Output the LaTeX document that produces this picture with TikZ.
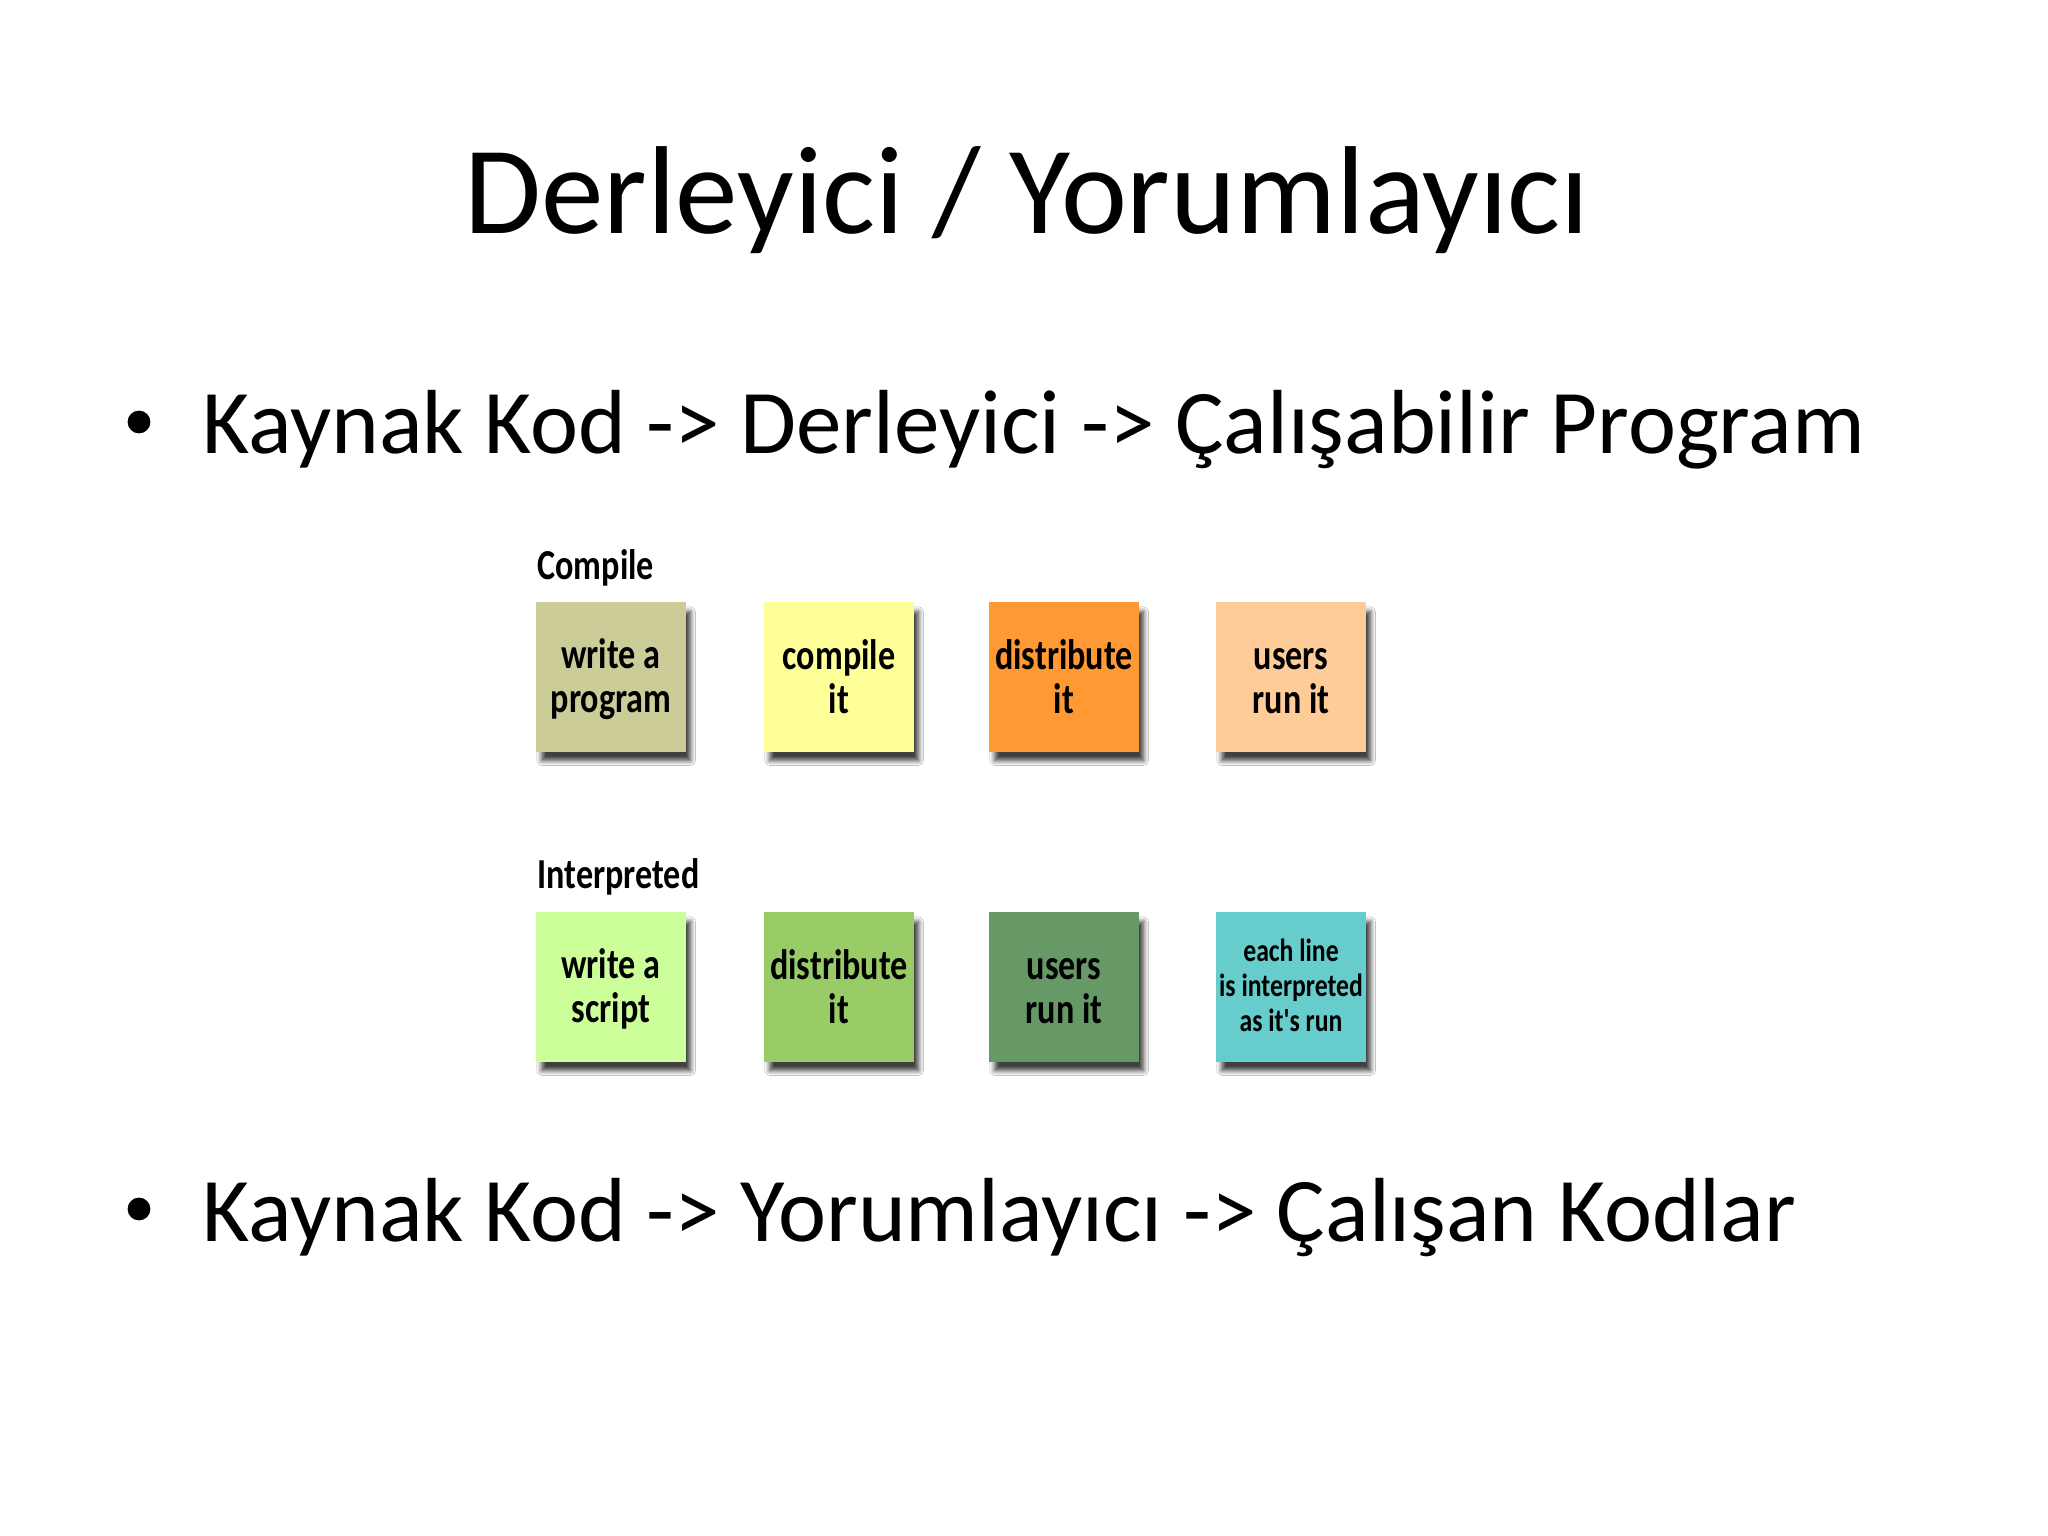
\documentclass[tikz,border=0pt]{standalone}
\usepackage{fontspec}
\setmainfont{Carlito}
\newfontfamily\boxfont{Carlito}[FakeStretch=0.8]
\usetikzlibrary{shadows.blur}
\definecolor{cA}{RGB}{204,204,153}
\definecolor{cB}{RGB}{255,255,153}
\definecolor{cC}{RGB}{255,153,51}
\definecolor{cD}{RGB}{255,204,153}
\definecolor{cE}{RGB}{204,255,153}
\definecolor{cF}{RGB}{153,204,102}
\definecolor{cG}{RGB}{102,153,102}
\definecolor{cH}{RGB}{102,204,204}
\newcommand\cardstrut{\rule[-1.7pt]{0pt}{13.7pt}}
\newcommand\smallstrut{\rule[-2pt]{0pt}{11pt}}
\tikzset{
  card/.style={minimum width=52.5pt, minimum height=52.5pt, inner sep=0pt, align=center,
    font=\boxfont\bfseries\fontsize{15}{15.6}\selectfont,
    blur shadow={shadow xshift=1.8pt, shadow yshift=-3.2pt, shadow blur radius=1.6pt, shadow blur steps=8, shadow opacity=75}},
  grplabel/.style={anchor=base west, inner sep=0pt, font=\boxfont\bfseries\fontsize{15}{16}\selectfont},
  bullettext/.style={anchor=base west, inner sep=0pt, font=\fontsize{32}{38}\selectfont},
  bulletdot/.style={circle, fill=black, inner sep=0pt, minimum size=8pt}
}
\begin{document}
\begin{tikzpicture}[x=0.3515625pt,y=-0.3515625pt]
\useasboundingbox[fill=white] (0,0) rectangle (2048,1536);
\node[anchor=base, inner sep=0pt, font=\fontsize{44}{50}\selectfont] (title) at (1027,234) {Derleyici / Yorumlayıcı};
\node[bulletdot] (d1) at (139,422) {};
\node[bullettext] (b1) at (202,454) {Kaynak Kod -> Derleyici -> Çalışabilir Program};
\node[bulletdot] (d2) at (139,1209) {};
\node[bullettext] (b2) at (202,1241) {Kaynak Kod -> Yorumlayıcı -> Çalışan Kodlar};
\node[grplabel] (lc) at (537,580) {Compile};
\node[card, fill=cA] (c1) at (611,677) {\cardstrut write a\\\cardstrut program};
\node[card, fill=cB] (c2) at (839,677) {\cardstrut compile\\\cardstrut it};
\node[card, fill=cC] (c3) at (1064,677) {\cardstrut distribute\\\cardstrut it};
\node[card, fill=cD] (c4) at (1291,677) {\cardstrut users\\\cardstrut run it};
\node[grplabel] (li) at (537,888) {Interpreted};
\node[card, fill=cE] (i1) at (611,987) {\cardstrut write a\\\cardstrut script};
\node[card, fill=cF] (i2) at (839,987) {\cardstrut distribute\\\cardstrut it};
\node[card, fill=cG] (i3) at (1064,987) {\cardstrut users\\\cardstrut run it};
\node[card, fill=cH, font=\boxfont\bfseries\fontsize{11.3}{12.3}\selectfont] (i4) at (1291,987) {\smallstrut each line\\\smallstrut is interpreted\\\smallstrut as it's run};
\end{tikzpicture}
\end{document}
